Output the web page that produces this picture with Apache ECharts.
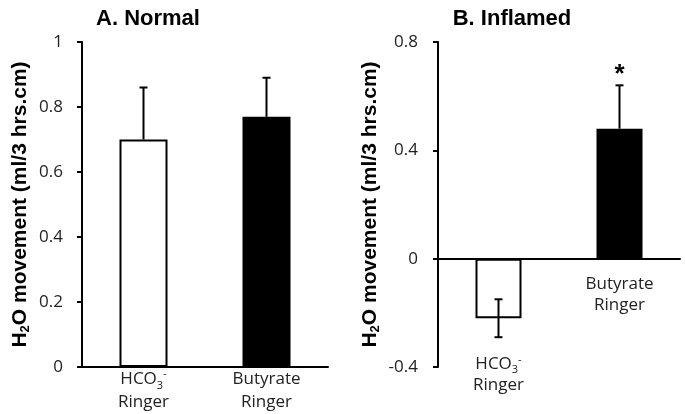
<!DOCTYPE html>
<html>
<head>
<meta charset="utf-8">
<script src="https://cdn.jsdelivr.net/npm/echarts@6/dist/echarts.min.js"></script>
<style>html,body{margin:0;padding:0;background:#fff}#c{width:685px;height:414px}</style>
</head>
<body>
<div id="c"></div>
<script>
// ---- data ----
const categories = ['HCO3', 'Butyrate'];
const panelTitles = ['A. Normal', 'B. Inflamed'];
const normalValues = [0.70, 0.77];
const normalErrLow = [0.70, 0.77];
const normalErrHigh = [0.86, 0.89];
const inflamedValues = [-0.22, 0.48];
const inflamedErrLow = [-0.29, 0.48];
const inflamedErrHigh = [-0.15, 0.64];
const inflamedSignif = [false, true];
const normalSignif = [false, false];
const normalTicks = { min: 0, max: 1, interval: 0.2 };
const inflamedTicks = { min: -0.4, max: 0.8, interval: 0.4 };
const yName = '{n|H}{s|2}{n|O movement (ml/3 hrs.cm)}';

// ---- styles ----
const FONT = 'Open Sans';
const barColors = ['#ffffff', '#000000'];
const catRich = {
  a: { fontFamily: FONT, fontSize: 17, color: '#222', lineHeight: 23 },
  b: { fontFamily: FONT, fontSize: 17, color: '#222', lineHeight: 21 },
  sub: { fontFamily: FONT, fontSize: 11, color: '#222', lineHeight: 11, verticalAlign: 'bottom' },
  sup: { fontFamily: FONT, fontSize: 11, color: '#222', lineHeight: 11, verticalAlign: 'top' },
  sp: { fontFamily: FONT, fontSize: 10, color: 'rgba(0,0,0,0)', lineHeight: 80 }
};
function catLabelFn(spaced, st) {
  return function (c, i) {
    const pre = spaced[i] ? '{sp| }\n' : '';
    if (c === 'HCO3') return pre + '{' + st + '|HCO}{sub|3}{sup|-}\n{' + st + '|Ringer}';
    return pre + '{' + st + '|' + c + '}\n{' + st + '|Ringer}';
  };
}
const nameRich = {
  n: { fontFamily: 'Liberation Sans', fontSize: 21, fontWeight: 'bold', color: '#000', lineHeight: 24 },
  s: { fontFamily: 'Liberation Sans', fontSize: 13, fontWeight: 'bold', color: '#000', lineHeight: 13, verticalAlign: 'bottom' }
};

function errData(low, high, vals, sig) {
  return low.map((l, i) => [i, l, high[i], vals[i], sig[i] ? 1 : 0]);
}

function errRender(params, api) {
  const x = api.value(0), lo = api.value(1), hi = api.value(2), base = api.value(3), sig = api.value(4);
  const pLo = api.coord([x, lo]);
  const pHi = api.coord([x, hi]);
  const cap = 4;
  const st = { stroke: '#000', lineWidth: 2 };
  const ch = [{ type: 'line', shape: { x1: pLo[0], y1: pLo[1], x2: pHi[0], y2: pHi[1] }, style: st }];
  if (Math.abs(hi - base) > 1e-9) ch.push({ type: 'line', shape: { x1: pHi[0] - cap, y1: pHi[1], x2: pHi[0] + cap, y2: pHi[1] }, style: st });
  if (Math.abs(lo - base) > 1e-9) ch.push({ type: 'line', shape: { x1: pLo[0] - cap, y1: pLo[1], x2: pLo[0] + cap, y2: pLo[1] }, style: st });
  if (sig) ch.push({ type: 'text', x: pHi[0], y: pHi[1] - 24, style: { text: '*', fontSize: 26, fontWeight: 'bold', fontFamily: 'Liberation Sans', fill: '#000', align: 'center', verticalAlign: 'top' } });
  return { type: 'group', children: ch };
}

function xAxis(gi, spaced, margin, st) {
  return {
    type: 'category', gridIndex: gi,
    data: categories,
    axisLine: { lineStyle: { color: '#000', width: 2 } },
    axisTick: { show: false },
    axisLabel: { margin: margin, formatter: catLabelFn(spaced, st), rich: catRich, interval: 0, hideOverlap: false }
  };
}
function yAxis(gi, t, gap, margin) {
  return {
    type: 'value', gridIndex: gi, min: t.min, max: t.max, interval: t.interval,
    name: yName, nameLocation: 'middle', nameRotate: 90, nameGap: gap,
    nameTextStyle: { rich: nameRich },
    axisLine: { show: true, lineStyle: { color: '#000', width: 2 } },
    axisTick: { show: true, length: 5, lineStyle: { color: '#000', width: 2 } },
    splitLine: { show: false },
    axisLabel: { margin: margin, fontFamily: FONT, fontSize: 17, color: '#222' }
  };
}

const chart = echarts.init(document.getElementById('c'), null, { renderer: 'canvas' });
chart.setOption({
  animation: false,
  backgroundColor: '#fff',
  title: [
    { text: panelTitles[0], left: 143, top: 3, textAlign: 'center', textStyle: { fontFamily: 'Liberation Sans', fontSize: 22, fontWeight: 'bold', color: '#000' } },
    { text: panelTitles[1], left: 507, top: 3, textAlign: 'center', textStyle: { fontFamily: 'Liberation Sans', fontSize: 22, fontWeight: 'bold', color: '#000' } }
  ],
  grid: [
    { left: 82, top: 42, width: 246, height: 325, containLabel: false, outerBoundsMode: 'none' },
    { left: 438, top: 42, width: 242, height: 325, containLabel: false, outerBoundsMode: 'none' }
  ],
  xAxis: [xAxis(0, [false, false], 1, 'a'), xAxis(1, [true, false], -93, 'b')],
  yAxis: [yAxis(0, normalTicks, 50, 19), yAxis(1, inflamedTicks, 56, 20)],
  series: [
    { type: 'bar', xAxisIndex: 0, yAxisIndex: 0, barWidth: 48,
      data: normalValues.map((v, i) => ({ value: v, itemStyle: { color: barColors[i] } })),
      itemStyle: { borderColor: '#000', borderWidth: 2 } },
    { type: 'custom', xAxisIndex: 0, yAxisIndex: 0, renderItem: errRender,
      data: errData(normalErrLow, normalErrHigh, normalValues, normalSignif), z: 5 },
    { type: 'bar', xAxisIndex: 1, yAxisIndex: 1, barWidth: 46,
      data: inflamedValues.map((v, i) => ({ value: v, itemStyle: { color: barColors[i] } })),
      itemStyle: { borderColor: '#000', borderWidth: 2 } },
    { type: 'custom', xAxisIndex: 1, yAxisIndex: 1, renderItem: errRender,
      data: errData(inflamedErrLow, inflamedErrHigh, inflamedValues, inflamedSignif), z: 5 }
  ]
});
</script>
</body>
</html>
